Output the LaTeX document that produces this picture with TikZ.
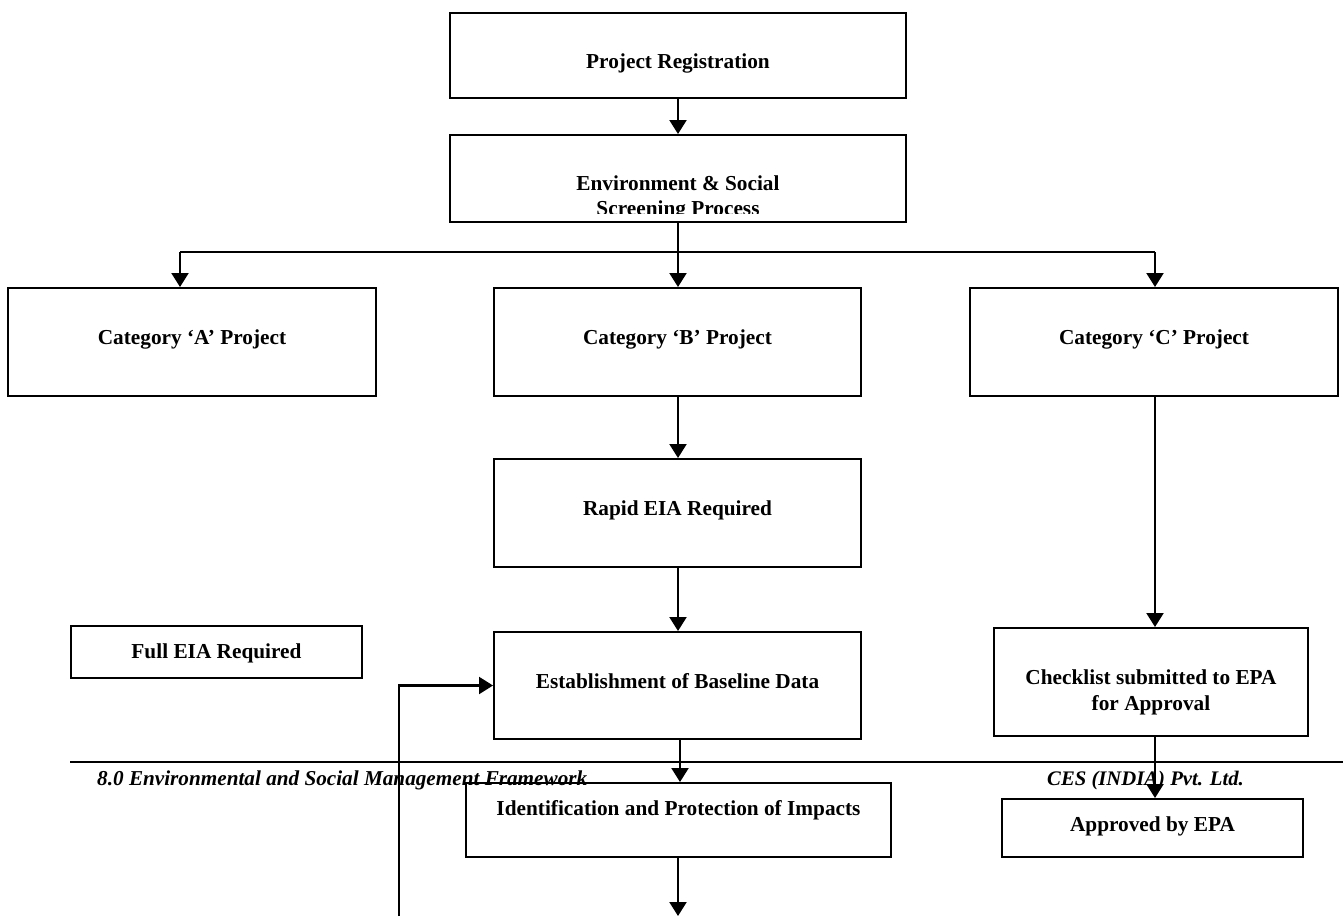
\documentclass[tikz,border=0pt]{standalone}
\usepackage{fontspec}
\setmainfont{Liberation Serif}
\usetikzlibrary{arrows.meta}
\begin{document}
\begin{tikzpicture}[x=1pt,y=-1pt,
  box/.style={draw=black,line width=2pt,rectangle,inner sep=0pt},
  txt/.style={inner sep=0pt,anchor=base,font=\fontsize{21.3}{25.5}\selectfont\bfseries},
  arr/.style={line width=2.2pt,-{Triangle[length=14pt,width=17pt]}},
  ln/.style={line width=2.2pt},
  foot/.style={font=\fontsize{21.2}{25}\selectfont\bfseries\itshape,inner sep=0pt,anchor=base west}]
\useasboundingbox (0,0) rectangle (1343,916);
% footer
\draw[line width=2pt] (70,762) -- (1343,762);
\node[foot] (ft1) at (97,785) {8.0 Environmental and Social Management Framework};
\node[foot,font=\fontsize{20.7}{25}\selectfont\bfseries\itshape] (ft2) at (1047,785) {CES (INDIA) Pvt. Ltd.};
% boxes
\node[box,minimum width=456pt,minimum height=85pt] (reg) at (678,55.5) {};
\node[txt] (regt) at (678,68) {Project Registration};
\node[box,minimum width=456pt,minimum height=87pt] (screen) at (678,178.5) {};
\begin{scope}
\clip (452,137) rectangle (904,213.5);
\node[txt] (screent1) at (678,190) {Environment \& Social};
\node[txt] (screent2) at (678,215) {Screening Process};
\end{scope}
\node[box,minimum width=368pt,minimum height=108pt] (catA) at (192,342) {};
\node[txt] (catAt) at (192,344) {Category ‘A’ Project};
\node[box,minimum width=367pt,minimum height=108pt] (catB) at (677.5,342) {};
\node[txt] (catBt) at (677.5,344) {Category ‘B’ Project};
\node[box,minimum width=368pt,minimum height=108pt] (catC) at (1154,342) {};
\node[txt] (catCt) at (1154,344) {Category ‘C’ Project};
\node[box,minimum width=367pt,minimum height=108pt] (rapid) at (677.5,513) {};
\node[txt] (rapidt) at (677.5,515) {Rapid EIA Required};
\node[box,minimum width=291pt,minimum height=52pt] (full) at (216.5,652) {};
\node[txt] (fullt) at (216.5,658) {Full EIA Required};
\node[box,minimum width=367pt,minimum height=107pt] (est) at (677.5,685.5) {};
\node[txt] (estt) at (677.5,688) {Establishment of Baseline Data};
\node[box,minimum width=314pt,minimum height=108pt] (check) at (1151,682) {};
\node[txt] (checkt1) at (1151,684.5) {Checklist submitted to EPA};
\node[txt] (checkt2) at (1151,710) {for Approval};
\node[box,minimum width=425pt,minimum height=74pt] (ident) at (678.5,820) {};
\node[txt] (identt) at (678.5,815) {Identification and Protection of Impacts};
\node[box,minimum width=301pt,minimum height=58pt] (appr) at (1152.5,828) {};
\node[txt] (apprt) at (1152.5,831) {Approved by EPA};
% connectors
\coordinate (split) at (678,252);
\coordinate (jA) at (180,252);
\coordinate (jC) at (1155,252);
\coordinate (bot) at (678,916);
\coordinate (fb) at (399,916);
\draw[arr] (reg.south) -- (screen.north);
\draw[ln] (screen.south) -- (split);
\draw[ln] (jA) -- (jC);
\draw[arr] (jA) -- (jA |- catA.north);
\draw[arr] (split) -- (split |- catB.north);
\draw[arr] (jC) -- (jC |- catC.north);
\draw[arr] (split |- catB.south) -- (split |- rapid.north);
\draw[arr] (split |- rapid.south) -- (split |- est.north);
\draw[arr] ([xshift=2pt]split |- est.south) -- ([xshift=2pt]split |- ident.north);
\draw[arr] (split |- ident.south) -- (bot);
\draw[arr] (fb) |- (est.west);
\draw[arr] (jC |- catC.south) -- (jC |- check.north);
\draw[arr] (jC |- check.south) -- (jC |- appr.north);
\end{tikzpicture}
\end{document}
